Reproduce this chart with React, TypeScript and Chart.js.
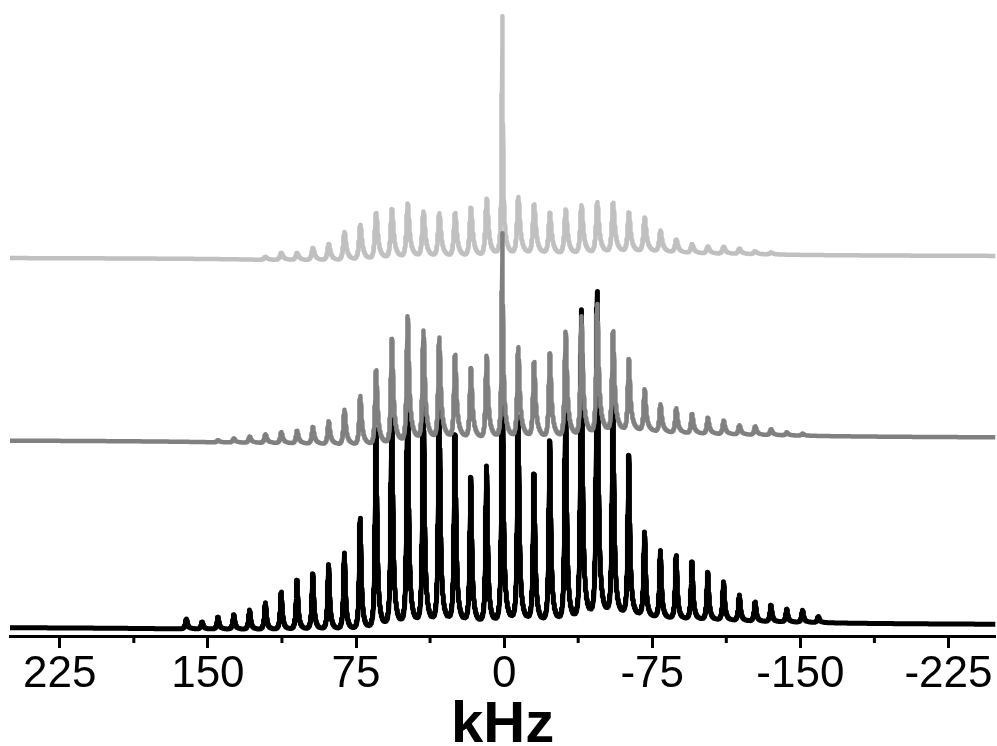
import { useEffect, useRef } from "react";
import { Chart, registerables } from "chart.js";

Chart.register(...registerables);

// Spinning-sideband positions (kHz)
const sidebandKHz = [
  160.9, 152.9, 144.9, 136.9, 128.9, 120.9, 112.9, 104.9, 96.9, 88.9,
  80.9, 72.9, 64.9, 56.9, 48.9, 40.9, 32.9, 24.9, 16.9, 8.9,
  0.9, -7.1, -15.1, -23.1, -31.1, -39.1, -47.1, -55.1, -63.1, -71.1,
  -79.1, -87.1, -95.1, -103.1, -111.1, -119.1, -127.1, -135.1, -143.1, -151.1,
  -159.1,
];

// Peak heights above each trace's own baseline (arbitrary units)
const blackHeights = [
  10, 7, 12, 14.5, 19.5, 27, 37.7, 49.5, 56, 65.5,
  77, 112, 200, 230, 235, 225, 230, 188, 146, 158,
  235, 205, 148, 182, 220, 311, 326, 214, 161, 85,
  68, 64, 58, 48, 39, 26, 19.5, 16.5, 13, 12,
  6,
];
const grayHeights = [
  0, 0, 2, 4, 6, 8.5, 10.8, 12.3, 16.3, 22.3,
  34, 47.5, 72.3, 101.7, 121.7, 105.7, 98, 80.7, 68, 80.3,
  90, 87.3, 73, 81.7, 102.3, 116, 126, 97.3, 69.7, 40.7,
  27.3, 24, 19, 15.7, 13.3, 9, 8.3, 5.7, 3, 2,
  0,
];
const lightHeights = [
  0, 0, 0, 0, 0, 3, 7, 7, 12, 16,
  27.7, 34.3, 45.3, 48, 52.7, 44.3, 42.7, 42.7, 47.7, 56,
  58, 56, 48.7, 40.3, 43.7, 47.7, 50.3, 48.7, 38.7, 33.7,
  21, 12.7, 8.7, 7, 7, 5.3, 3, 2, 0, 0,
  0,
];

// Narrow isotropic spike at the centre of the gray traces
const spikeKHz = 0.9;
const blackSpike = 0;
const graySpike = 114;
const lightSpike = 181;

// Vertical offsets of the stacked traces
const blackOffset = 10;
const grayOffset = 197;
const lightOffset = 379;

const xTicks = [225, 150, 75, 0, -75, -150, -225];
const minorTicks = [187.5, 112.5, 37.5, -37.5, -112.5, -187.5];
const xMin = -248.7;
const xMax = 250.2;
const yMax = 626;

const FONT = "'Liberation Sans', Arial, Helvetica, sans-serif";

function buildTrace(
  heights: number[],
  spike: number,
  offset: number,
  gamma: number,
  disp: number
) {
  const pts: { x: number; y: number }[] = [];
  const start = Math.round(xMin * 10);
  const end = Math.round(xMax * 10);
  const gs = 0.25;
  for (let i = start; i <= end; i++) {
    const x = i / 10;
    let y = offset;
    for (let k = 0; k < sidebandKHz.length; k++) {
      const h = heights[k];
      if (!h) continue;
      const d = sidebandKHz[k] - x;
      const den = d * d + gamma * gamma;
      y += (h * (gamma * gamma + disp * gamma * d)) / den;
    }
    if (spike) {
      const d = spikeKHz - x;
      y += (spike * gs * gs) / (d * d + gs * gs);
    }
    pts.push({ x, y });
  }
  return pts;
}

const minorTickPlugin = {
  id: "minorTicks",
  afterDraw(chart: any) {
    const sx = chart.scales.x;
    const ctx = chart.ctx;
    ctx.save();
    ctx.strokeStyle = "#000";
    ctx.lineWidth = 3;
    minorTicks.forEach((v) => {
      const px = sx.getPixelForValue(v);
      ctx.beginPath();
      ctx.moveTo(px, sx.top);
      ctx.lineTo(px, sx.top + 7);
      ctx.stroke();
    });
    ctx.restore();
  },
};

export default function App() {
  const ref = useRef<HTMLCanvasElement | null>(null);
  useEffect(() => {
    if (!ref.current) return;
    const chart = new Chart(ref.current, {
      type: "line",
      data: {
        datasets: [
          {
            label: "gray",
            data: buildTrace(grayHeights, graySpike, grayOffset, 0.7, 0.3),
            borderColor: "#808080",
            borderWidth: 4.5,
            order: 0,
          },
          {
            label: "black",
            data: buildTrace(blackHeights, blackSpike, blackOffset, 0.6, 0.15),
            borderColor: "#000000",
            borderWidth: 5,
            order: 1,
          },
          {
            label: "light",
            data: buildTrace(lightHeights, lightSpike, lightOffset, 0.85, 0.3),
            borderColor: "#c0c0c0",
            borderWidth: 4.5,
            order: 2,
          },
        ],
      },
      options: {
        animation: false,
        responsive: false,
        devicePixelRatio: 1,
        parsing: false,
        normalized: true,
        layout: { padding: { left: 10, right: 0, top: 10, bottom: 0 } },
        elements: {
          point: { radius: 0 },
          line: { tension: 0, borderJoinStyle: "round", borderCapStyle: "round" },
        },
        plugins: { legend: { display: false }, tooltip: { enabled: false } },
        scales: {
          x: {
            type: "linear",
            reverse: true,
            min: xMin,
            max: xMax,
            afterBuildTicks: (s: any) => {
              s.ticks = xTicks.map((v) => ({ value: v }));
            },
            grid: {
              display: true,
              drawOnChartArea: false,
              drawTicks: true,
              tickLength: 12,
              tickWidth: 3,
              tickColor: "#000",
            },
            border: { display: true, width: 3, color: "#000" },
            ticks: {
              color: "#000",
              font: { family: FONT, size: 44, lineHeight: 1 },
              padding: 4.5,
              maxRotation: 0,
              autoSkip: false,
              callback: (v: any) => String(v),
            },
            title: {
              display: true,
              text: "kHz",
              color: "#000",
              font: { family: FONT, size: 58, weight: "bold", lineHeight: 40 / 58 },
              padding: { top: 5, bottom: 0 },
            },
          },
          y: { display: false, min: 0, max: yMax },
        },
      },
      plugins: [minorTickPlugin],
    } as any);
    return () => chart.destroy();
  }, []);
  return (
    <canvas
      ref={ref}
      width={997}
      height={746}
      style={{ position: "absolute", left: 0, top: 0, width: 997, height: 746 }}
    />
  );
}
